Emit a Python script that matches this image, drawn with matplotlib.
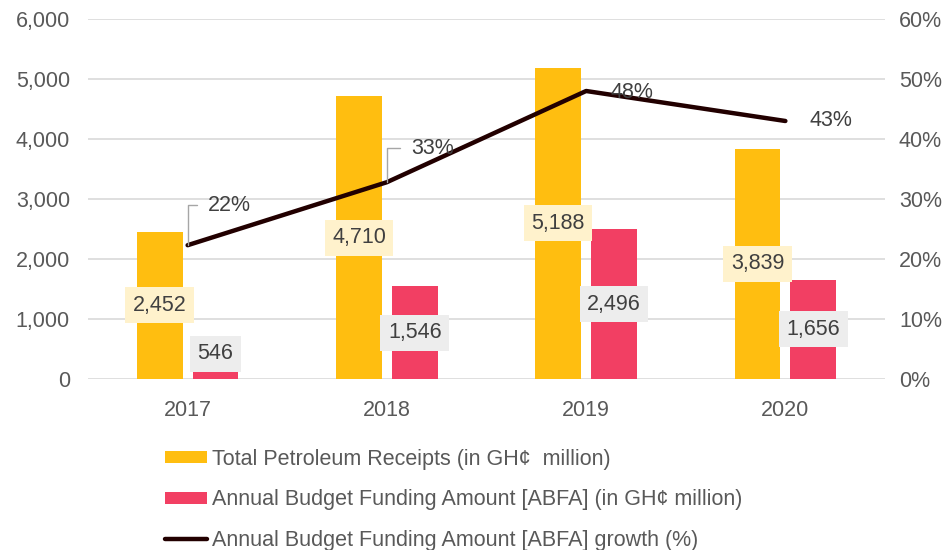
import numpy as np
import matplotlib.pyplot as plt
from matplotlib.ticker import FuncFormatter

plt.rcParams['font.family'] = ['Liberation Sans', 'DejaVu Sans']

# Data
years = ['2017', '2018', '2019', '2020']
petroleum_receipts = [2452, 4710, 5188, 3839]
abfa_amount = [546, 1546, 2496, 1656]
abfa_growth = [0.223, 0.328, 0.48, 0.43]
growth_labels = ['22%', '33%', '48%', '43%']

yellow = '#FFBE10'
red = '#F23F63'
line_col = '#220000'
grey_txt = '#595959'
lbl_txt = '#404040'
fs = 15.5

fig = plt.figure(figsize=(9.53, 5.5), dpi=100)
ax = fig.add_axes([88/953, 1 - 379/550, (885 - 88)/953, 360/550])
ax2 = ax.twinx()

x = np.arange(len(years))
off = 0.14
w = 0.23

ax.bar(x - off, petroleum_receipts, width=w, color=yellow, zorder=2,
       label='Total Petroleum Receipts (in GH\u00a2  million)')
ax.bar(x + off, abfa_amount, width=w, color=red, zorder=2,
       label='Annual Budget Funding Amount [ABFA] (in GH\u00a2 million)')

# data labels on the bars
for i in range(len(years)):
    v = petroleum_receipts[i]
    ax.text(x[i] - off, v / 2, f'{v:,}', ha='center', va='center', fontsize=fs,
            color=lbl_txt, zorder=4,
            bbox=dict(boxstyle='square,pad=0.35', fc='#FFF2CC', ec='none'))
    v = abfa_amount[i]
    ax.text(x[i] + off, max(v / 2, 420), f'{v:,}', ha='center', va='center', fontsize=fs,
            color=lbl_txt, zorder=4,
            bbox=dict(boxstyle='square,pad=0.35', fc='#EDEDED', ec='none'))

ax.set_ylim(0, 6000)
ax.set_xlim(-0.5, 3.5)
ax.set_yticks(np.arange(0, 6001, 1000))
ax.yaxis.set_major_formatter(FuncFormatter(lambda v, p: f'{int(v):,}'))
ax.set_xticks(x)
ax.set_xticklabels(years)
ax.grid(axis='y', color='#D9D9D9', linewidth=1.2, zorder=0)
ax.set_axisbelow(True)
for s in ax.spines.values():
    s.set_visible(False)
ax.tick_params(axis='y', length=0, pad=13, labelsize=fs, labelcolor=grey_txt)
ax.tick_params(axis='x', length=0, pad=15, labelsize=fs, labelcolor=grey_txt)

# growth line on the right axis
ax2.plot(x, abfa_growth, color=line_col, linewidth=3.2, solid_capstyle='round',
         label='Annual Budget Funding Amount [ABFA] growth (%)', zorder=3)
ax2.set_ylim(0, 0.6)
ax2.set_yticks(np.arange(0, 0.61, 0.1))
ax2.yaxis.set_major_formatter(FuncFormatter(lambda v, p: f'{v*100:.0f}%'))
for s in ax2.spines.values():
    s.set_visible(False)
ax2.tick_params(axis='y', length=0, pad=10, labelsize=fs, labelcolor=grey_txt)

offsets = [(20, 40), (24, 34), (24, -1), (24, 0)]
for i in range(len(years)):
    dx, dy = offsets[i]
    if dy > 5:
        ax2.annotate(growth_labels[i], (x[i], abfa_growth[i]), xytext=(dx, dy),
                     textcoords='offset pixels', ha='left', va='center',
                     fontsize=fs, color=lbl_txt,
                     arrowprops=dict(arrowstyle='-', color='#A6A6A6', lw=1,
                                     connectionstyle='angle,angleA=0,angleB=90,rad=0',
                                     relpos=(0, 0.5), shrinkA=6, shrinkB=0))
    else:
        ax2.annotate(growth_labels[i], (x[i], abfa_growth[i]), xytext=(dx, dy),
                     textcoords='offset pixels', ha='left', va='center',
                     fontsize=fs, color=lbl_txt)

h1, l1 = ax.get_legend_handles_labels()
h2, l2 = ax2.get_legend_handles_labels()
fig.legend(h1 + h2, l1 + l2, loc='upper left', bbox_to_anchor=(165/953, 1 - 449/550),
           frameon=False, ncol=1, fontsize=15.5, labelcolor=grey_txt,
           handlelength=1.95, handleheight=0.5, handletextpad=0.25, labelspacing=0.9,
           borderaxespad=0, borderpad=0)

fig.savefig('out.png', dpi=100)
